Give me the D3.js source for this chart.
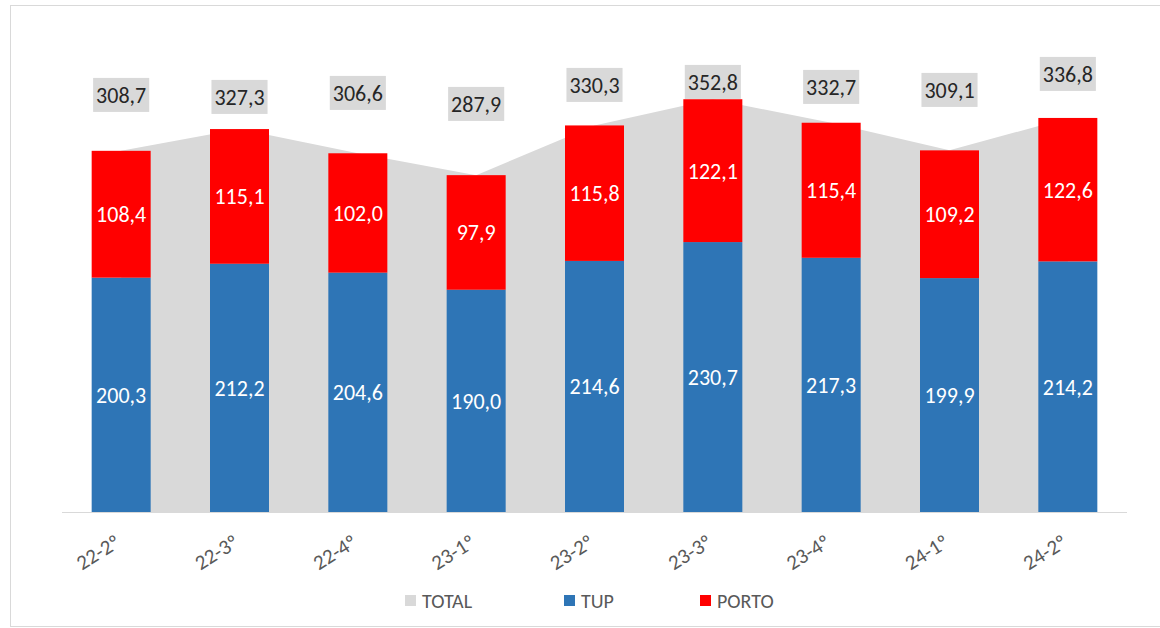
<!DOCTYPE html>
<html lang="pt">
  <head>
    <meta charset="UTF-8" />
    <title>TUP / PORTO</title>
    <script src="https://d3js.org/d3.v7.min.js"></script>
    <style>
      body {
        margin: 0;
        background: #fff;
        font-family: Calibri, Carlito, "Liberation Sans", Arial, sans-serif;
      }
      svg {
        display: block;
      }
    </style>
  </head>
  <body>
    <svg id="chart" width="1160" height="628"></svg>

    <script>
      const categories = ["22-2º", "22-3º", "22-4º", "23-1º", "23-2º", "23-3º", "23-4º", "24-1º", "24-2º"];
      const tup = [200.3, 212.2, 204.6, 190.0, 214.6, 230.7, 217.3, 199.9, 214.2];
      const porto = [108.4, 115.1, 102.0, 97.9, 115.8, 122.1, 115.4, 109.2, 122.6];
      const total = [308.7, 327.3, 306.6, 287.9, 330.3, 352.8, 332.7, 309.1, 336.8];

      // where the total labels were dragged to (px, label centre)
      const totalLabelY = [95, 97, 93, 104, 85, 82, 87, 90, 74];

      const colors = { total: "#d9d9d9", tup: "#2e75b6", porto: "#ff0000" };
      const fmt = (v) => v.toFixed(1).replace(".", ",");

      const svg = d3.select("#chart");

      // outer frame
      svg
        .append("rect")
        .attr("x", 10.5)
        .attr("y", 5.5)
        .attr("width", 1200)
        .attr("height", 621)
        .attr("fill", "none")
        .attr("stroke", "#d9d9d9")
        .attr("stroke-width", 1);

      const x = d3.scaleBand().domain(categories).range([62, 1127]).paddingInner(0.5).paddingOuter(0.25);
      const y = d3.scaleLinear().domain([0, 400]).range([512, 44]);
      const cx = (c) => x(c) + x.bandwidth() / 2;

      const rows = categories.map((c, i) => ({ c, tup: tup[i], porto: porto[i], total: total[i], ly: totalLabelY[i] }));

      // TOTAL area behind the bars
      const area = d3
        .area()
        .x((d) => cx(d.c))
        .y0(y(0))
        .y1((d) => y(d.total));
      svg.append("path").datum(rows).attr("d", area).attr("fill", colors.total);

      // stacked bars
      const stack = d3.stack().keys(["tup", "porto"])(rows);
      const bw = 59;
      stack.forEach((layer) => {
        const g = svg.append("g");
        g.selectAll("rect")
          .data(layer)
          .join("rect")
          .attr("x", (d) => cx(d.data.c) - bw / 2)
          .attr("width", bw)
          .attr("y", (d) => y(d[1]))
          .attr("height", (d) => y(d[0]) - y(d[1]))
          .attr("fill", colors[layer.key]);
        g.selectAll("text")
          .data(layer)
          .join("text")
          .attr("x", (d) => cx(d.data.c))
          .attr("y", (d) => (y(d[0]) + y(d[1])) / 2)
          .attr("dy", "0.36em")
          .attr("text-anchor", "middle")
          .attr("fill", "#fff")
          .attr("font-size", 22)
          .text((d) => fmt(d.data[layer.key]));
      });

      // x axis line
      svg
        .append("line")
        .attr("x1", 62)
        .attr("x2", 1127)
        .attr("y1", 512.5)
        .attr("y2", 512.5)
        .attr("stroke", "#d9d9d9")
        .attr("stroke-width", 1.2);

      // category labels, rotated
      svg
        .append("g")
        .selectAll("text")
        .data(categories)
        .join("text")
        .attr("transform", (c) => `translate(${cx(c) - 23},552) rotate(-32)`)
        .attr("text-anchor", "middle")
        .attr("dy", "0.35em")
        .attr("fill", "#595959")
        .attr("font-size", 21)
        .text((c) => c);

      // total labels in grey boxes
      const tl = svg.append("g").selectAll("g").data(rows).join("g");
      const tlText = tl
        .append("text")
        .attr("x", (d) => cx(d.c))
        .attr("y", (d) => d.ly)
        .attr("dy", "0.36em")
        .attr("text-anchor", "middle")
        .attr("fill", "#262626")
        .attr("font-size", 22)
        .text((d) => fmt(d.total));
      tlText.each(function () {
        const b = this.getBBox();
        d3.select(this.parentNode)
          .insert("rect", "text")
          .attr("x", b.x - 3)
          .attr("y", b.y - 4)
          .attr("width", b.width + 6)
          .attr("height", b.height + 7)
          .attr("fill", colors.total);
      });

      // legend
      const legend = [
        { name: "TOTAL", color: colors.total, x: 405 },
        { name: "TUP", color: colors.tup, x: 564 },
        { name: "PORTO", color: colors.porto, x: 700 },
      ];
      const lg = svg.append("g").selectAll("g").data(legend).join("g");
      lg.append("rect")
        .attr("x", (d) => d.x)
        .attr("y", 595)
        .attr("width", 11)
        .attr("height", 11)
        .attr("fill", (d) => d.color);
      lg.append("text")
        .attr("x", (d) => d.x + 17)
        .attr("y", 601)
        .attr("dy", "0.36em")
        .attr("fill", "#595959")
        .attr("font-size", 20)
        .text((d) => d.name);
    </script>
  </body>
</html>
